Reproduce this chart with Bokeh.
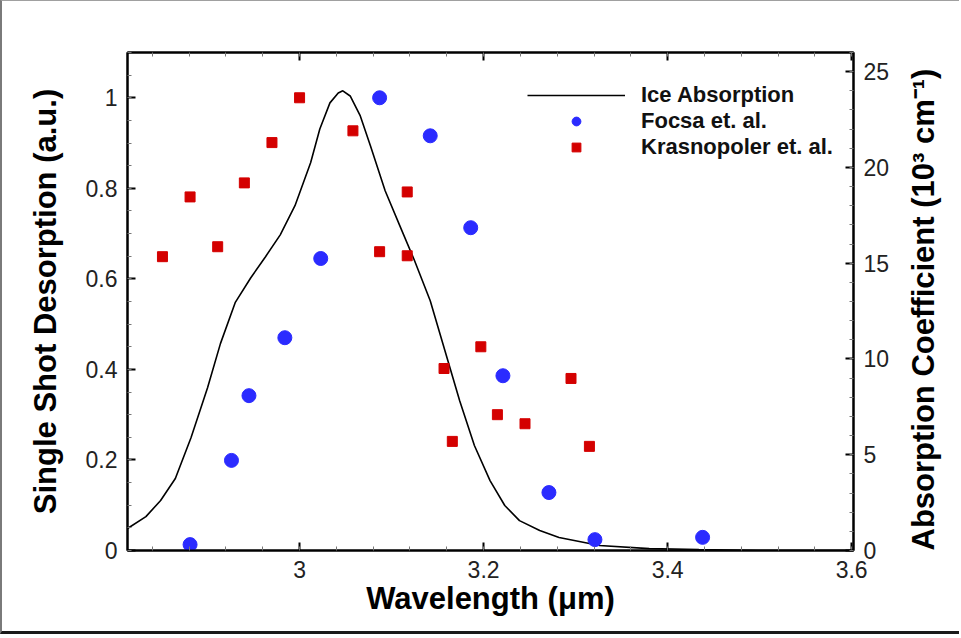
import math
from bokeh.plotting import figure
from bokeh.models import (Range1d, LinearAxis, SingleIntervalTicker, PrintfTickFormatter,
                          Legend, LegendItem)
from bokeh.embed import file_html
from bokeh.resources import INLINE

# Ice absorption curve (right axis, 10^3 cm^-1)
ice_wl = [2.813, 2.833, 2.849, 2.865, 2.882, 2.900, 2.914, 2.930, 2.947, 2.963, 2.979,
          2.995, 3.012, 3.022, 3.033, 3.042, 3.047, 3.055, 3.066, 3.077, 3.093, 3.109,
          3.125, 3.142, 3.158, 3.174, 3.190, 3.207, 3.223, 3.239, 3.261, 3.282, 3.326,
          3.380, 3.434, 3.499, 3.600]
ice_abs = [1.15, 1.77, 2.61, 3.76, 5.89, 8.50, 10.80, 12.94, 14.24, 15.34, 16.48,
           18.00, 20.24, 22.01, 23.37, 23.89, 24.00, 23.73, 22.69, 21.13, 18.78, 16.95,
           15.13, 13.04, 10.43, 7.82, 5.48, 3.65, 2.35, 1.56, 1.04, 0.68, 0.26,
           0.10, 0.05, 0.0, 0.0]

# Focsa et al. (left axis)
focsa_wl = [2.881, 2.926, 2.945, 2.984, 3.023, 3.087, 3.142, 3.186, 3.221, 3.271, 3.321, 3.438]
focsa_y = [0.013, 0.199, 0.342, 0.470, 0.645, 1.000, 0.916, 0.713, 0.386, 0.128, 0.024, 0.029]

# Krasnopoler et al. (left axis)
kras_wl = [2.851, 2.881, 2.911, 2.940, 2.970, 3.000, 3.058, 3.087, 3.117, 3.117, 3.157,
           3.166, 3.197, 3.215, 3.245, 3.295, 3.315]
kras_y = [0.649, 0.781, 0.671, 0.812, 0.901, 1.000, 0.927, 0.660, 0.792, 0.651, 0.402,
          0.241, 0.450, 0.300, 0.280, 0.380, 0.230]

FONT = "Liberation Sans"

p = figure(width=959, height=634, x_range=Range1d(2.813, 3.602), y_range=Range1d(0, 1.1),
           output_backend="svg", toolbar_location=None,
           min_border_left=125, min_border_right=106, min_border_top=51, min_border_bottom=85,
           styles={"border-left": "2px solid #7a7a7a", "border-top": "1px solid #a0a0a0",
                   "border-bottom": "3px solid #1a1a1a"})
bottom = p.below[0]
left = p.left[0]
bottom.axis_label = "Wavelength (μm)"
left.axis_label = "Single Shot Desorption (a.u.)"

p.extra_y_ranges = {"abs": Range1d(0, 26)}
p.xgrid.grid_line_color = None
p.ygrid.grid_line_color = None
p.outline_line_color = "black"
p.outline_line_width = 2

line = p.line(ice_wl, ice_abs, y_range_name="abs", line_color="black", line_width=1.6)
focsa = p.scatter(focsa_wl, focsa_y, marker="circle", size=14, fill_color="#2b2bff",
                  line_color="#2b2bff")
kras = p.scatter(kras_wl, kras_y, marker="square", size=10, fill_color="#d40000",
                 line_color="#d40000")

right = LinearAxis(y_range_name="abs", axis_label="Absorption Coefficient (10³ cm⁻¹)")
p.add_layout(right, "right")
top = LinearAxis()
p.add_layout(top, "above")

fmt = PrintfTickFormatter(format="%.3g")
bottom.ticker = SingleIntervalTicker(interval=0.2, num_minor_ticks=5)
top.ticker = SingleIntervalTicker(interval=0.2, num_minor_ticks=5)
left.ticker = SingleIntervalTicker(interval=0.2, num_minor_ticks=4)
right.ticker = SingleIntervalTicker(interval=5, num_minor_ticks=5)

for ax in [bottom, left, right, top]:
    ax.formatter = fmt
    ax.axis_line_width = 2
    ax.axis_line_color = "black"
    ax.major_tick_in = 8
    ax.major_tick_out = 0
    ax.minor_tick_in = 4
    ax.minor_tick_out = 0
    ax.major_tick_line_width = 2
    ax.major_tick_line_color = "black"
    ax.minor_tick_line_color = "#777777"
    ax.minor_tick_line_width = 1
    ax.major_label_text_font = FONT
    ax.major_label_text_font_size = "23px"
    ax.major_label_text_color = "#222222"
    ax.axis_label_text_font = FONT
    ax.axis_label_text_font_size = "31px"
    ax.axis_label_text_font_style = "bold"
    ax.axis_label_text_color = "black"
    ax.major_label_standoff = 10

top.major_label_text_color = None
left.axis_label_standoff = 20
bottom.axis_label_standoff = 0
right.axis_label_standoff = 31
try:
    right.axis_label_orientation = math.pi / 2
except Exception:
    pass
try:
    right.axis_label_align = "start"
except Exception:
    pass

legend = Legend(items=[LegendItem(label="Ice Absorption", renderers=[line]),
                       LegendItem(label="Focsa et. al.", renderers=[focsa]),
                       LegendItem(label="Krasnopoler et. al.", renderers=[kras])],
                location=(400, 390), padding=0, margin=0, spacing=0,
                glyph_width=98, glyph_height=22, label_standoff=16,
                label_text_font=FONT, label_text_font_size="22px",
                label_text_font_style="bold", label_text_color="#111111",
                border_line_color=None, background_fill_alpha=0)
p.add_layout(legend)

open("out.html", "w").write(file_html(p, INLINE))
